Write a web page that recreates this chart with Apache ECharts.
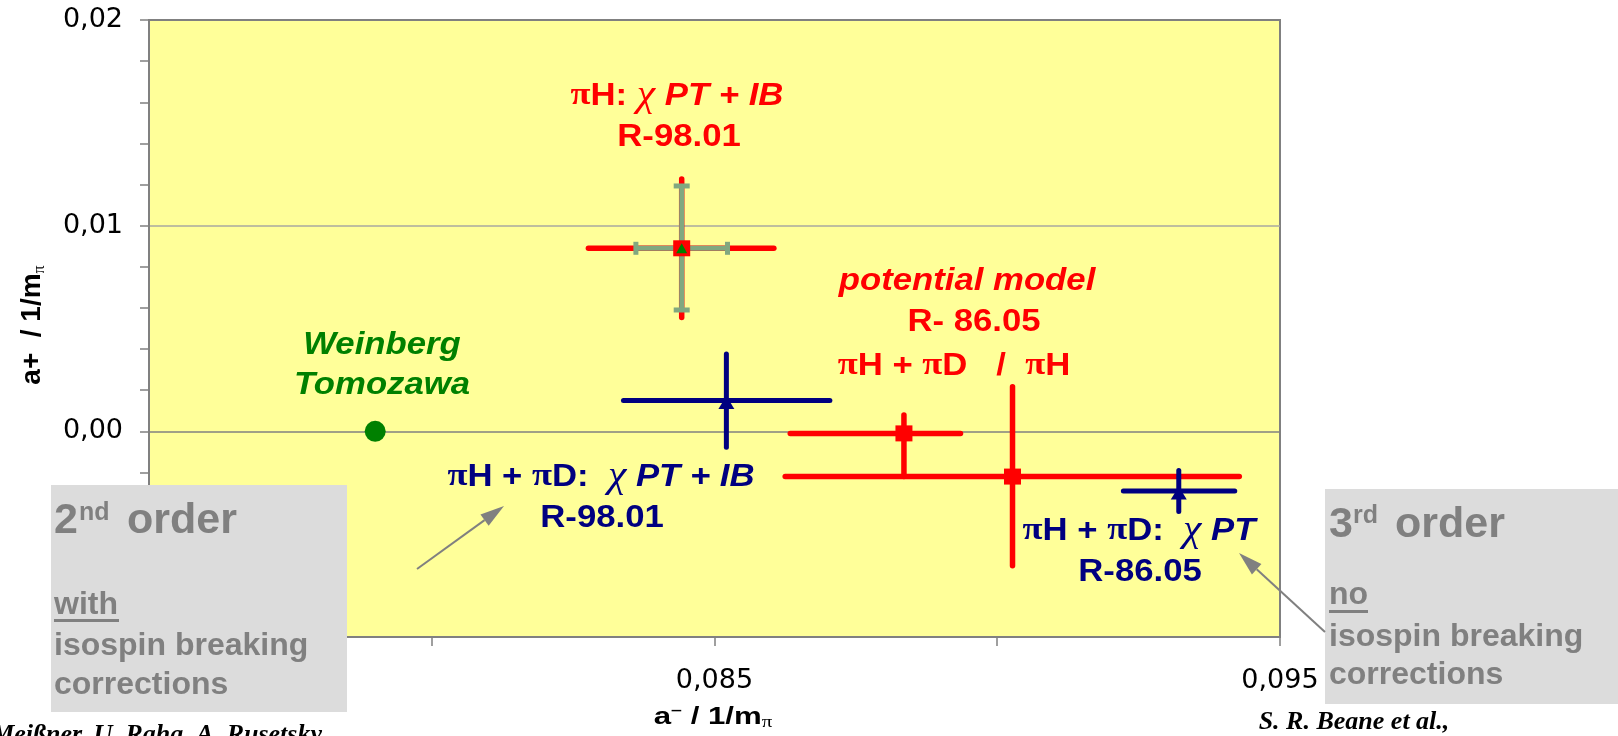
<!DOCTYPE html>
<html>
<head>
<meta charset="utf-8">
<script src="https://cdn.jsdelivr.net/npm/echarts@6/dist/echarts.min.js"></script>
<style>
  html, body { margin: 0; padding: 0; background: #ffffff; }
  #chart { width: 1618px; height: 736px; }
</style>
</head>
<body>
<div id="chart"></div>
<script>
// Axis ranges (a- horizontally, a+ vertically, both in units of 1/m_pi)
const xRange = [0.075, 0.095];
const yRange = [-0.01, 0.02];
// Tick values that carry a printed label
const xLabelTicks = [0.075, 0.085, 0.095];
const yLabelTicks = [-0.01, 0.00, 0.01, 0.02];

// Weinberg–Tomozawa prediction
const weinbergTomozawa = [[0.0790, 0.0]];

// Error crosses, one row each: [a-, a+, a- low, a- high, a+ low, a+ high]
// red: pionic hydrogen chiPT+IB (R-98.01), potential model piH+piD and piH (R-86.05)
const redCrosses = [
  [0.08442, 0.0089, 0.08277, 0.08605, 0.00553, 0.01227],
  [0.08835, -0.0001, 0.08634, 0.08935, -0.0022, 0.0008],
  [0.09027, -0.0022, 0.08625, 0.09428, -0.00654, 0.00217]
];
// inner (capped) errors of the piH chiPT+IB result
const innerCross = [
  [0.08442, 0.0089, 0.08361, 0.08523, 0.0059, 0.01193]
];
// navy: piH+piD chiPT+IB (R-98.01) and piH+piD chiPT (R-86.05)
const navyCrosses = [
  [0.08521, 0.0015, 0.08339, 0.08704, -0.00077, 0.00376],
  [0.09321, -0.0029, 0.09223, 0.0942, -0.0039, -0.0019]
];

const RED = '#ff0000';
const NAVY = '#000080';
const GREEN = '#008000';
const SAGE = '#80a880';
const GREY = '#808080';
const SANS = "'Liberation Sans', Arial, sans-serif";
const SERIF = "'Liberation Serif', 'Times New Roman', serif";

const centers = rows => rows.map(r => [r[0], r[1]]);

function crossRenderer(color, width, caps) {
  return function (params, api) {
    const x = api.value(0), y = api.value(1);
    const l = api.coord([api.value(2), y]);
    const r = api.coord([api.value(3), y]);
    const b = api.coord([x, api.value(4)]);
    const t = api.coord([x, api.value(5)]);
    const st = () => ({ stroke: color, lineWidth: width, lineCap: caps ? 'butt' : 'round' });
    const children = [
      { type: 'line', shape: { x1: l[0], y1: l[1], x2: r[0], y2: r[1] }, style: st() },
      { type: 'line', shape: { x1: b[0], y1: b[1], x2: t[0], y2: t[1] }, style: st() }
    ];
    if (caps) {
      const h = caps[0] / 2, w = caps[1] / 2;
      children.push(
        { type: 'line', shape: { x1: l[0], y1: l[1] - h, x2: l[0], y2: l[1] + h }, style: st() },
        { type: 'line', shape: { x1: r[0], y1: r[1] - h, x2: r[0], y2: r[1] + h }, style: st() },
        { type: 'line', shape: { x1: t[0] - w, y1: t[1], x2: t[0] + w, y2: t[1] }, style: st() },
        { type: 'line', shape: { x1: b[0] - w, y1: b[1], x2: b[0] + w, y2: b[1] }, style: st() }
      );
    }
    return { type: 'group', children };
  };
}

function richStyles(color, size) {
  return {
    b: { fill: color, fontFamily: SANS, fontWeight: 'bold', fontSize: size },
    i: { fill: color, fontFamily: SANS, fontWeight: 'bold', fontStyle: 'italic', fontSize: size },
    p: { fill: color, fontFamily: SERIF, fontWeight: 'bold', fontSize: size * 1.05 },
    c: { fill: color, fontFamily: SERIF, fontStyle: 'italic', fontSize: size * 1.2 }
  };
}

function note(x, y, text, color, size) {
  return {
    type: 'text', x, y, scaleX: 1.12, z: 20,
    style: {
      text, rich: richStyles(color, size), fill: color,
      font: `bold ${size}px ${SANS}`, align: 'center', verticalAlign: 'middle'
    }
  };
}

function boxText(x, y, text, size) {
  return {
    type: 'text', x, y, z: 51,
    style: { text, fill: GREY, font: `bold ${size}px ${SANS}`, align: 'left', verticalAlign: 'middle' }
  };
}

function arrow(x1, y1, x2, y2) {
  const a = Math.atan2(y2 - y1, x2 - x1);
  const L = 24, W = 7;
  const bx = x2 - L * Math.cos(a), by = y2 - L * Math.sin(a);
  const px = -Math.sin(a) * W, py = Math.cos(a) * W;
  return [
    { type: 'line', z: 60, shape: { x1, y1, x2: bx, y2: by }, style: { stroke: GREY, lineWidth: 2 } },
    { type: 'polygon', z: 60, shape: { points: [[x2, y2], [bx + px, by + py], [bx - px, by - py]] }, style: { fill: GREY } }
  ];
}

const chart = echarts.init(document.getElementById('chart'), null, { renderer: 'canvas' });

const option = {
  backgroundColor: '#ffffff',
  animation: false,
  grid: {
    left: 149, top: 20, width: 1131, height: 617,
    show: true, backgroundColor: '#ffff99', borderColor: GREY, borderWidth: 2
  },
  xAxis: {
    type: 'value', min: xRange[0], max: xRange[1], interval: 0.005,
    axisLine: { show: true, onZero: false, lineStyle: { color: GREY, width: 2 } },
    axisTick: { show: true, length: 9, lineStyle: { color: GREY, width: 1.5 } },
    splitLine: { show: false },
    axisLabel: {
      margin: 30, color: '#000', fontFamily: 'DejaVu Sans', fontSize: 27,
      formatter: v => xLabelTicks.some(t => Math.abs(t - v) < 1e-7) ? v.toFixed(3).replace('.', ',') : ''
    }
  },
  yAxis: {
    type: 'value', min: yRange[0], max: yRange[1], interval: 0.01,
    axisLine: { show: true, onZero: false, lineStyle: { color: GREY, width: 2 } },
    axisTick: { show: true, length: 9, lineStyle: { color: GREY, width: 1.5 } },
    minorTick: { show: true, splitNumber: 5, length: 9, lineStyle: { color: GREY, width: 1.5 } },
    splitLine: { show: true, lineStyle: { color: [GREY, GREY, '#a8a8a0', GREY], width: 1.5 } },
    axisLabel: {
      margin: 26, color: '#000', fontFamily: 'DejaVu Sans', fontSize: 27,
      formatter: v => yLabelTicks.some(t => Math.abs(t - v) < 1e-7) ? v.toFixed(2).replace('.', ',') : ''
    }
  },
  series: [
    {
      type: 'custom', name: 'red errors', data: redCrosses, z: 3,
      encode: { x: [0, 2, 3], y: [1, 4, 5] },
      renderItem: crossRenderer(RED, 5.5, null)
    },
    {
      type: 'custom', name: 'navy errors', data: navyCrosses, z: 3,
      encode: { x: [0, 2, 3], y: [1, 4, 5] },
      renderItem: crossRenderer(NAVY, 5, null)
    },
    {
      type: 'custom', name: 'inner errors', data: innerCross, z: 4,
      encode: { x: [0, 2, 3], y: [1, 4, 5] },
      renderItem: crossRenderer(SAGE, 5, [13, 16])
    },
    {
      type: 'scatter', name: 'red centres', data: centers(redCrosses), z: 5,
      symbol: 'rect', symbolSize: [17, 16], itemStyle: { color: RED, opacity: 1 }
    },
    {
      type: 'scatter', name: 'inner centre', data: centers(innerCross), z: 6,
      symbol: 'triangle', symbolSize: [11, 10], itemStyle: { color: GREEN, opacity: 1 }
    },
    {
      type: 'scatter', name: 'navy centres', data: centers(navyCrosses), z: 5,
      symbol: 'triangle', symbolSize: [16, 13], symbolOffset: [0, 2], itemStyle: { color: NAVY, opacity: 1 }
    },
    {
      type: 'scatter', name: 'Weinberg-Tomozawa', data: weinbergTomozawa, z: 5,
      symbol: 'circle', symbolSize: 21, itemStyle: { color: GREEN, opacity: 1 }
    }
  ],
  graphic: [
    // annotations inside the plot
    note(677, 96, '{p|π}{b|H: }{c|χ}{i| PT + IB}', RED, 31),
    note(679, 137, '{b|R-98.01}', RED, 31),
    note(382, 345, '{i|Weinberg}', GREEN, 31),
    note(382, 385, '{i|Tomozawa}', GREEN, 31),
    note(967, 281, '{i|potential model}', RED, 31),
    note(974, 322, '{b|R- 86.05}', RED, 31),
    note(954, 366, '{p|π}{b|H + }{p|π}{b|D   /  }{p|π}{b|H}', RED, 31),
    note(601, 477, '{p|π}{b|H + }{p|π}{b|D:  }{c|χ}{i| PT + IB}', NAVY, 31),
    note(602, 518, '{b|R-98.01}', NAVY, 31),
    note(1139, 531, '{p|π}{b|H + }{p|π}{b|D:  }{c|χ}{i| PT}', NAVY, 31),
    note(1140, 572, '{b|R-86.05}', NAVY, 31),

    // axis titles
    {
      type: 'text', x: 713, y: 717, scaleX: 1.3, z: 20,
      style: {
        text: '{b|a}{s|–}{b| / 1/m}{u|π}', align: 'center', verticalAlign: 'middle', fill: '#000',
        font: `bold 24px ${SANS}`,
        rich: {
          b: { fill: '#000', fontFamily: SANS, fontWeight: 'bold', fontSize: 24, lineHeight: 28 },
          s: { fill: '#000', fontFamily: SANS, fontWeight: 'bold', fontSize: 15, lineHeight: 28, verticalAlign: 'top' },
          u: { fill: '#000', fontFamily: SERIF, fontSize: 16, lineHeight: 28, verticalAlign: 'bottom' }
        }
      }
    },
    {
      type: 'text', x: 32, y: 325, rotation: Math.PI / 2, z: 20,
      style: {
        text: '{b|a+  / 1/m}{u|π}', align: 'center', verticalAlign: 'middle', fill: '#000',
        font: `bold 28px ${SANS}`,
        rich: {
          b: { fill: '#000', fontFamily: SANS, fontWeight: 'bold', fontSize: 28, lineHeight: 32 },
          u: { fill: '#000', fontFamily: SERIF, fontSize: 16, lineHeight: 32, verticalAlign: 'bottom' }
        }
      }
    },

    // left grey panel
    { type: 'rect', z: 50, shape: { x: 51, y: 485, width: 296, height: 227 }, style: { fill: '#dcdcdc' } },
    boxText(54, 521, '2', 43),
    boxText(79, 513, 'nd', 25),
    boxText(127, 521, 'order', 43),
    boxText(54, 605, 'with', 32),
    { type: 'rect', z: 51, shape: { x: 54, y: 619, width: 65, height: 3 }, style: { fill: GREY } },
    boxText(54, 646, 'isospin breaking', 32),
    boxText(54, 685, 'corrections', 32),

    // right grey panel
    { type: 'rect', z: 50, shape: { x: 1325, y: 489, width: 293, height: 215 }, style: { fill: '#dcdcdc' } },
    boxText(1329, 525, '3', 43),
    boxText(1353, 516, 'rd', 25),
    boxText(1395, 525, 'order', 43),
    boxText(1329, 595, 'no', 32),
    { type: 'rect', z: 51, shape: { x: 1329, y: 610, width: 39, height: 3 }, style: { fill: GREY } },
    boxText(1329, 637, 'isospin breaking', 32),
    boxText(1329, 675, 'corrections', 32),

    // pointer arrows
    ...arrow(417, 569, 504, 506),
    ...arrow(1325, 632, 1239, 553),

    // references
    {
      type: 'text', x: 322, y: 735, z: 20,
      style: { text: 'U.-G. Meißner, U. Raha, A. Rusetsky', fill: '#000', font: `italic bold 26px ${SERIF}`, align: 'right', verticalAlign: 'middle' }
    },
    {
      type: 'text', x: 1354, y: 722, z: 20,
      style: { text: 'S. R. Beane et al.,', fill: '#000', font: `italic bold 26px ${SERIF}`, align: 'center', verticalAlign: 'middle' }
    }
  ]
};

chart.setOption(option);
</script>
</body>
</html>
